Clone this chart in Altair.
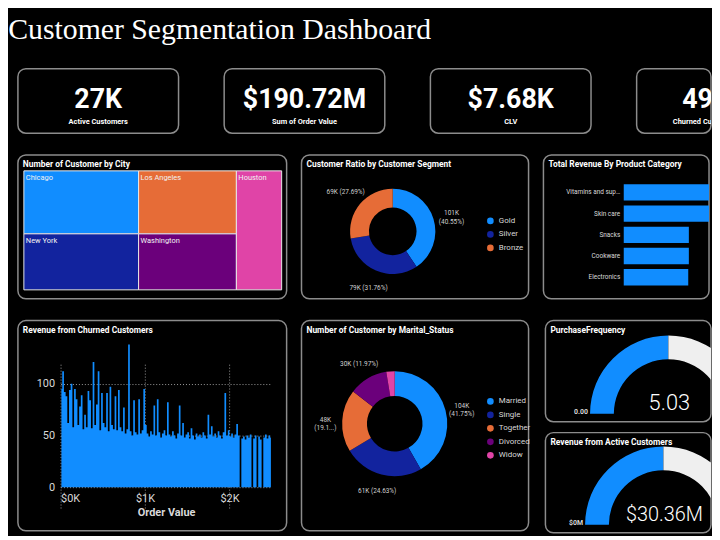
import math
import altair as alt
import pandas as pd

# ------------------------------------------------------------------ data
dashboard_title = "Customer Segmentation Dashboard"

kpi_values = ["27K", "$190.72M", "$7.68K", "49K"]
kpi_labels = ["Active Customers", "Sum of Order Value", "CLV", "Churned Customers"]

cities = ["Chicago", "New York", "Los Angeles", "Washington", "Houston"]
city_customers = [57.8, 51.4, 49.3, 43.8, 43.1]          # thousands
city_columns = [["Chicago", "New York"], ["Los Angeles", "Washington"], ["Houston"]]

segments = ["Gold", "Silver", "Bronze"]
segment_customers = [101, 79, 69]                       # thousands
segment_labels = ["101K\n(40.55%)", "79K (31.76%)", "69K (27.69%)"]

categories = ["Vitamins and supplements", "Skin care", "Snacks", "Cookware", "Electronics"]
category_revenue = [48.0, 47.0, 32.0, 32.0, 31.7]       # $M

churn_bin = 20                                          # order value bin width ($)
churn_revenue = [
    95, 112, 92, 88, 62, 94, 100, 58, 95, 85, 60, 78, 89, 56, 70, 58, 93, 84, 57, 121,
    60, 80, 112, 55, 91, 62, 58, 91, 54, 97, 60, 56, 88, 55, 94, 58, 54, 77, 52, 56,
    138, 54, 50, 84, 53, 51, 85, 52, 55, 95, 60, 52, 49, 54, 51, 79, 50, 85, 53, 48,
    52, 55, 50, 82, 51, 49, 54, 50, 47, 52, 79, 50, 62, 48, 51, 53, 47, 57, 50, 46,
    52, 49, 51, 48, 53, 50, 47, 70, 51, 59, 49, 52, 48, 54, 50, 47, 53, 91, 50, 55,
    49, 52, 48, 51, 61, 50, 0, 47, 49, 46, 50, 48, 51, 0, 47, 50, 0, 49, 46, 0,
    48, 51, 47, 50, 48,
]

marital = ["Married", "Single", "Together", "Divorced", "Widow"]
marital_customers = [104, 61.3, 47.6, 29.8, 6.4]        # thousands
marital_labels = ["104K\n(41.75%)", "61K (24.63%)", "48K\n(19.1...)", "30K (11.97%)", ""]

gauge_titles = ["PurchaseFrequency", "Revenue from Active Customers"]
gauge_values = [5.03, 30.36]
gauge_max = [10.06, 60.72]
gauge_value_text = ["5.03", "$30.36M"]
gauge_min_text = ["0.00", "$0M"]

# ------------------------------------------------------------------ style
FONT = "Roboto"
BLUE = "#118DFF"
PALETTE = ["#118DFF", "#12239E", "#E66C37", "#6B007B", "#E044A7"]
LABEL = "#d9d9d9"


def panel_title(text):
    return alt.Chart(pd.DataFrame({"t": [text]})).mark_text(
        align="left", baseline="top", font=FONT, fontSize=8.5,
        fontWeight="bold", color="white"
    ).encode(text="t:N", x=alt.value(5), y=alt.value(5.5))


# ------------------------------------------------------------------ KPI row
card_w = [162, 162, 162, 75]
card_cx = [81, 81, 81, 70]
cards = []
for v, l, w, cx in zip(kpi_values, kpi_labels, card_w, card_cx):
    d = pd.DataFrame({"value": [v], "label": [l]})
    val = alt.Chart(d).mark_text(
        align="center", baseline="alphabetic", font=FONT, fontSize=27,
        fontWeight="bold", color="white", clip=True
    ).encode(text="value:N", x=alt.value(cx), y=alt.value(40))
    lab = alt.Chart(d).mark_text(
        align="center", baseline="alphabetic", font=FONT, fontSize=7.5,
        fontWeight="bold", color="white", clip=True
    ).encode(text="label:N", x=alt.value(cx), y=alt.value(56))
    cards.append(alt.layer(val, lab).properties(width=w, height=65))
kpi_row = alt.hconcat(*cards, spacing=44)

# ------------------------------------------------------------------ treemap
total = sum(city_customers)
rows = []
x0 = 0.0
for col in city_columns:
    col_sum = sum(city_customers[cities.index(c)] for c in col)
    x1 = x0 + col_sum / total
    y0 = 0.0
    for c in col:
        y1 = y0 + city_customers[cities.index(c)] / col_sum
        rows.append({"city": c, "x0": x0, "x1": x1, "y0": y0, "y1": y1})
        y0 = y1
    x0 = x1
tm_df = pd.DataFrame(rows)
tx = alt.Scale(domain=[0, 1], range=[6, 266], nice=False)
ty = alt.Scale(domain=[0, 1], range=[16, 136], nice=False)
tm_rect = alt.Chart(tm_df).mark_rect(stroke="#e8e8e8", strokeWidth=1).encode(
    x=alt.X("x0:Q", scale=tx, axis=None), x2="x1:Q",
    y=alt.Y("y0:Q", scale=ty, axis=None), y2="y1:Q",
    color=alt.Color("city:N", scale=alt.Scale(domain=cities, range=PALETTE), legend=None),
)
tm_text = alt.Chart(tm_df).mark_text(
    align="left", baseline="top", dx=2, dy=3, font=FONT, fontSize=7.5, color="#f2f2f2"
).encode(x=alt.X("x0:Q", scale=tx, axis=None), y=alt.Y("y0:Q", scale=ty, axis=None), text="city:N")
treemap = alt.layer(tm_rect, tm_text, panel_title("Number of Customer by City")).properties(width=271, height=145)


# ------------------------------------------------------------------ donuts
def donut(names, counts, labels, colors, title, cx, cy, r_in, r_out, r_lab, lx, ly, w, h):
    d = pd.DataFrame({"name": names, "count": counts, "label": labels, "idx": list(range(len(names)))})
    theta = alt.Theta("count:Q", stack=True)
    arc = alt.Chart(d).mark_arc(innerRadius=r_in, outerRadius=r_out).encode(
        theta=theta, order=alt.Order("idx:Q"),
        color=alt.Color("name:N", scale=alt.Scale(domain=names, range=colors),
                        legend=alt.Legend(orient="none", legendX=lx, legendY=ly, title=None,
                                          symbolType="circle", symbolSize=45, labelColor=LABEL,
                                          labelFont=FONT, labelFontSize=8, rowPadding=4.6)),
        x=alt.value(cx), y=alt.value(cy),
    )
    txt = alt.Chart(d).mark_text(
        radius=r_lab, font=FONT, fontSize=6.5, color="#cfcfcf", lineBreak="\n"
    ).encode(theta=theta, order=alt.Order("idx:Q"), text="label:N", x=alt.value(cx), y=alt.value(cy))
    return alt.layer(arc, txt, panel_title(title)).properties(width=w, height=h)


donut1 = donut(segments, segment_customers, segment_labels, PALETTE[:3],
               "Customer Ratio by Customer Segment", 92, 77, 24, 43, 62, 186, 62, 229, 145)
donut2 = donut(marital, marital_customers, marital_labels, PALETTE,
               "Number of Customer by Marital_Status", 94, 104, 28, 53, 70, 186, 77, 229, 212)

# ------------------------------------------------------------------ product bars
cat_df = pd.DataFrame({"category": categories, "revenue": category_revenue})
prod = alt.Chart(cat_df).mark_bar(color=BLUE, clip=True).encode(
    y=alt.Y("category:N", sort=categories,
            scale=alt.Scale(range=[27, 134], paddingInner=0.23, paddingOuter=0.115),
            axis=alt.Axis(orient="left", offset=-81, ticks=False, domain=False, labelPadding=4,
                          labelColor=LABEL, labelFont=FONT, labelFontSize=6.5, labelLimit=56,
                          title=None)),
    x=alt.X("revenue:Q", scale=alt.Scale(domain=[0, 58], range=[81, 200], nice=False), axis=None),
)
products = alt.layer(prod, panel_title("Total Revenue By Product Category")).properties(width=167, height=145)

# ------------------------------------------------------------------ churned revenue
churn_df = pd.DataFrame({"order_value": [i * churn_bin for i in range(len(churn_revenue))],
                         "revenue": churn_revenue})
churn_area = alt.Chart(churn_df).transform_calculate(
    ov_mid="datum.order_value + %f" % (churn_bin / 2)
).mark_area(color=BLUE, interpolate="step", opacity=1).encode(
    x=alt.X("ov_mid:Q",
            scale=alt.Scale(domain=[0, 2500], range=[43, 256], nice=False),
            axis=alt.Axis(orient="bottom", offset=-42, values=[0, 1000, 2000],
                          labelExpr="'$' + (datum.value / 1000) + 'K'", ticks=False, domain=False,
                          grid=True, gridDash=[1, 2], gridColor="#9a9a9a", labelColor=LABEL,
                          labelFont=FONT, labelFontSize=11, labelPadding=3,
                          title="Order Value", titleColor=LABEL, titleFont=FONT, titleFontSize=11,
                          titleFontWeight="bold", titlePadding=4)),
    y=alt.Y("revenue:Q",
            scale=alt.Scale(domain=[0, 140], range=[168, 22], nice=False),
            axis=alt.Axis(orient="left", offset=-41, values=[0, 50, 100], ticks=False, domain=False,
                          grid=True, gridDash=[1, 2], gridColor="#9a9a9a", labelColor=LABEL,
                          labelFont=FONT, labelFontSize=11, labelPadding=4, title=None)),
)
churn = alt.layer(churn_area, panel_title("Revenue from Churned Customers")).properties(width=271, height=212)


# ------------------------------------------------------------------ gauges
def gauge(title, value, vmax, vtext, mtext, cx, cy, h, vsize):
    d = pd.DataFrame({"part": ["value", "rest"], "amount": [value, vmax - value], "idx": [0, 1]})
    arc = alt.Chart(d).mark_arc(innerRadius=55, outerRadius=79, clip=True).encode(
        theta=alt.Theta("amount:Q", stack=True,
                        scale=alt.Scale(range=[1.5 * math.pi, 2.5 * math.pi])),
        order=alt.Order("idx:Q"),
        color=alt.Color("part:N", scale=alt.Scale(domain=["value", "rest"], range=[BLUE, "#efefef"]),
                        legend=None),
        x=alt.value(cx), y=alt.value(cy),
    )
    t = pd.DataFrame({"v": [vtext], "m": [mtext]})
    big = alt.Chart(t).mark_text(align="center", baseline="alphabetic", font=FONT, fontSize=vsize,
                                 fontWeight=300, color="white", clip=True).encode(
        text="v:N", x=alt.value(cx + 1), y=alt.value(cy - 4))
    small = alt.Chart(t).mark_text(align="right", baseline="alphabetic", font=FONT, fontSize=7,
                                   fontWeight="bold", color=LABEL).encode(
        text="m:N", x=alt.value(cx - 81), y=alt.value(cy))
    return alt.layer(arc, big, small, panel_title(title)).properties(width=167, height=h)


g1 = gauge(gauge_titles[0], gauge_values[0], gauge_max[0], gauge_value_text[0], gauge_min_text[0], 124, 94, 102, 22)
g2 = gauge(gauge_titles[1], gauge_values[1], gauge_max[1], gauge_value_text[1], gauge_min_text[1], 119, 93, 101, 20)


def indep(c):
    return c.resolve_scale(color="independent", theta="independent").resolve_legend(color="independent")


gauges = indep(alt.vconcat(g1, g2, spacing=9))
row2 = indep(alt.hconcat(treemap, donut1, products, spacing=13))
row3 = indep(alt.hconcat(churn, donut2, gauges, spacing=13))

chart = indep(alt.vconcat(kpi_row, row2, row3, spacing=20)).properties(
    title=alt.TitleParams(dashboard_title, anchor="start", frame="bounds", font="Liberation Serif",
                          fontSize=30, fontWeight="normal", color="white", dx=-9, offset=23),
    padding={"left": 0, "top": 5, "right": 0, "bottom": 0},
    background="#000000",
).configure_view(
    stroke="#8c8c8c", strokeWidth=1.5, cornerRadius=8, fill="#000000"
)

chart.save("out.html", embed_options={"renderer": "svg", "actions": False})
